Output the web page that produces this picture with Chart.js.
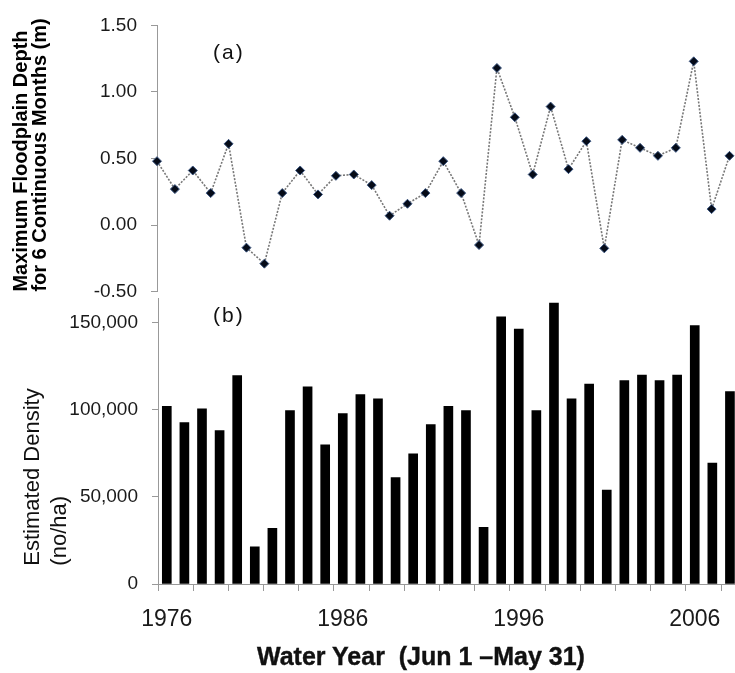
<!DOCTYPE html>
<html lang="en">
<head>
    <meta charset="UTF-8">
    <title>Floodplain Depth and Estimated Density</title>
    <script src="https://cdn.jsdelivr.net/npm/chart.js@4.4.0/dist/chart.umd.min.js"></script>
    <style>
        html, body { margin: 0; padding: 0; background: #fff; overflow: hidden; }
        #wrap { position: relative; width: 735px; height: 673px; overflow: hidden; }
        canvas { position: absolute; left: 0; }
        #depthChart { top: 0; }
        #densityChart { top: 273px; }
        .panel { position: absolute; font: 21px "Liberation Sans", Arial, sans-serif; letter-spacing: 2px; color: #111; }
        #xTitle { position: absolute; left: 257px; top: 644px; white-space: nowrap;
                  font: bold 25px/25px "Liberation Sans", Arial, sans-serif; color: #111; -webkit-text-stroke: 0.4px #111; }
    </style>
</head>
<body>
    <div id="wrap">
        <canvas id="depthChart" width="735" height="317"></canvas>
        <canvas id="densityChart" width="745" height="400"></canvas>
        <div class="panel" style="left:213px; top:40px;">(a)</div>
        <div class="panel" style="left:213px; top:303px;">(b)</div>
        <div id="xTitle">Water Year&nbsp; (Jun 1 –May 31)</div>
    </div>

    <script>
        // data
        const years = ['1976', '1977', '1978', '1979', '1980', '1981', '1982', '1983', '1984', '1985', '1986',
                       '1987', '1988', '1989', '1990', '1991', '1992', '1993', '1994', '1995', '1996', '1997',
                       '1998', '1999', '2000', '2001', '2002', '2003', '2004', '2005', '2006', '2007', '2008'];
        const depth = [0.48, 0.27, 0.41, 0.24, 0.61, -0.17, -0.29, 0.24, 0.41, 0.23, 0.37,
                       0.38, 0.30, 0.07, 0.16, 0.24, 0.48, 0.24, -0.15, 1.18, 0.81, 0.38,
                       0.89, 0.42, 0.63, -0.175, 0.64, 0.58, 0.52, 0.58, 1.23, 0.12, 0.52];
        const density = [102000, 92700, 100600, 88100, 119700, 21400, 32000, 99600, 113200, 79900, 97900,
                         108800, 106300, 61100, 74700, 91600, 102000, 99600, 32600, 153400, 146400, 99600,
                         161300, 106300, 114800, 54000, 116800, 119900, 116800, 119900, 148400, 69500, 110500];
        const yearLabels = ['1976', '1986', '1996', '2006'];
        const depthTicks = [-0.5, 0, 0.5, 1.0, 1.5];
        const densityTicks = [0, 50000, 100000, 150000];

        Chart.defaults.font.family = '"Liberation Sans", Arial, sans-serif';
        Chart.defaults.color = '#1a1a1a';

        const axisGray = '#999';

        // (a) floodplain depth
        new Chart(document.getElementById('depthChart'), {
            type: 'line',
            data: {
                labels: years,
                datasets: [{
                    data: depth,
                    borderColor: '#777',
                    borderWidth: 1.6,
                    borderDash: [2, 1.5],
                    tension: 0,
                    pointStyle: 'rectRot',
                    pointRadius: 4.5,
                    pointBackgroundColor: '#050b18',
                    pointBorderColor: '#3a5580',
                    pointBorderWidth: 1
                }]
            },
            options: {
                responsive: false,
                animation: false,
                layout: { padding: { top: 25, bottom: 10, left: 0, right: 0 } },
                plugins: { legend: { display: false }, tooltip: { enabled: false } },
                scales: {
                    x: { type: 'category', offset: false, display: false },
                    y: {
                        min: -0.5,
                        max: 1.5,
                        afterFit: (scale) => { scale.width = 157; },
                        afterBuildTicks: (scale) => { scale.ticks = depthTicks.map(v => ({ value: v })); },
                        ticks: {
                            padding: 14,
                            font: { size: 19 },
                            callback: (v) => v.toFixed(2)
                        },
                        grid: { drawOnChartArea: false, color: axisGray, tickLength: 6 },
                        border: { color: axisGray },
                        title: {
                            display: true,
                            text: ['Maximum Floodplain Depth', 'for 6 Continuous Months (m)'],
                            align: 'start',
                            color: '#000',
                            font: { size: 20, weight: 'bold', lineHeight: 0.95 },
                            padding: { top: 12, bottom: 0 }
                        }
                    }
                }
            }
        });

        // (b) estimated density
        new Chart(document.getElementById('densityChart'), {
            type: 'bar',
            data: {
                labels: years,
                datasets: [{
                    data: density,
                    backgroundColor: '#000',
                    barThickness: 9
                }]
            },
            options: {
                responsive: false,
                animation: false,
                layout: { padding: { top: 11, bottom: 0, left: 0, right: 4 } },
                plugins: { legend: { display: false }, tooltip: { enabled: false } },
                scales: {
                    x: {
                        type: 'category',
                        offset: true,
                        afterFit: (scale) => { scale.height = 89; },
                        ticks: {
                            autoSkip: false,
                            maxRotation: 0,
                            padding: 15,
                            font: { size: 23 },
                            callback: function (v, i) {
                                const y = years[i];
                                return yearLabels.includes(y) ? y : '';
                            }
                        },
                        grid: {
                            offset: true,
                            drawOnChartArea: false,
                            tickLength: 7,
                            color: (ctx) => (ctx.index % 2 === 0 ? axisGray : 'rgba(0,0,0,0)')
                        },
                        border: { color: axisGray }
                    },
                    y: {
                        min: 0,
                        max: 164000,
                        afterFit: (scale) => { scale.width = 158; },
                        afterBuildTicks: (scale) => { scale.ticks = densityTicks.map(v => ({ value: v })); },
                        ticks: {
                            padding: 14,
                            font: { size: 19 },
                            callback: (v) => v.toLocaleString('en-US')
                        },
                        grid: { drawOnChartArea: false, color: axisGray, tickLength: 6 },
                        border: { color: axisGray },
                        title: {
                            display: true,
                            text: ['   Estimated Density', '   (no/ha)'],
                            align: 'start',
                            color: '#111',
                            font: { size: 22, lineHeight: 1.23 },
                            padding: { top: 19, bottom: 0 }
                        }
                    }
                }
            }
        });
    </script>
</body>
</html>
